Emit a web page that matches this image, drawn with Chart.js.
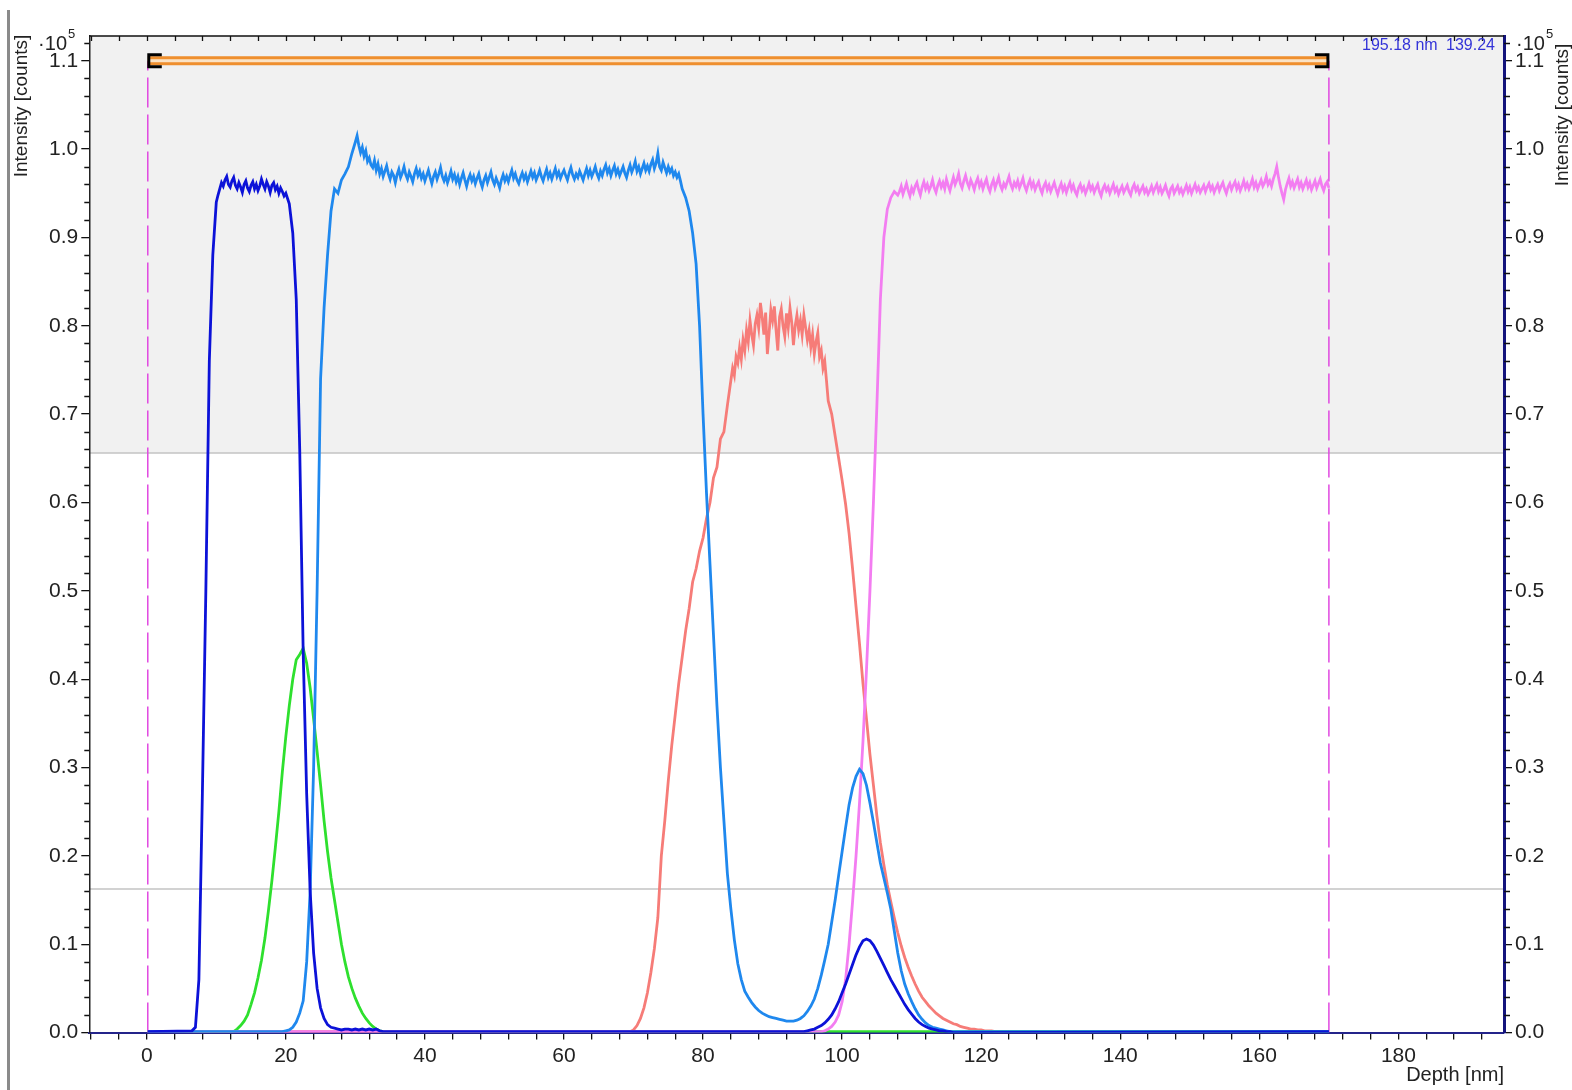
<!DOCTYPE html>
<html>
<head>
<meta charset="utf-8">
<title>Depth profile</title>
<script src="https://cdn.jsdelivr.net/npm/chart.js@4.4.1/dist/chart.umd.min.js"></script>
<style>
  html, body { margin: 0; padding: 0; background: #fff; }
  canvas { display: block; }
</style>
</head>
<body>
<canvas id="profile" width="1572" height="1090"></canvas>
<script>
// depth axis [nm]
var depthMin = -8.26;
var depthMax = 195.18;
var depthLabels = [0, 20, 40, 60, 80, 100, 120, 140, 160, 180];
var depthMinorStep = 4;

// intensity axis [10^5 counts]
var countsMax = 1.128;
var countsLabels = [0, 0.1, 0.2, 0.3, 0.4, 0.5, 0.6, 0.7, 0.8, 0.9, 1.0, 1.1];
var countsMinorStep = 0.02;

// integration window, level lines and cursor readout
var windowDepth = [0.15, 170];
var windowLevel = 1.1;
var upperLevel = 0.656;
var lowerLevel = 0.1626;
var cursorDepth = "195.18 nm";
var cursorCounts = "139.24";

// profiles are stored as runs sampled at a fixed step from their start depth
var coarseStep = 0.5;
var fineStep = 0.25;
var floorCounts = 0.001;

// dark blue
var blueRiseStart = 6.5;
var blueRise = [0.002, 0.006, 0.06, 0.27, 0.5, 0.76, 0.88, 0.94];
var bluePlateauStart = 10.25;
var bluePlateau = [
  0.948, 0.955, 0.962, 0.958, 0.965, 0.969, 0.96, 0.957,
  0.964, 0.968, 0.959, 0.955, 0.962, 0.957, 0.951, 0.96,
  0.964, 0.956, 0.952, 0.959, 0.963, 0.955, 0.96, 0.953,
  0.958, 0.966, 0.96, 0.955, 0.963, 0.958, 0.951, 0.959,
  0.962, 0.954, 0.958, 0.95, 0.956, 0.952, 0.947, 0.95
];
var blueFallStart = 20.5;
var blueFall = [
  0.938, 0.905, 0.83, 0.66, 0.43, 0.27, 0.16, 0.09, 0.05, 0.028,
  0.016, 0.009, 0.006, 0.005, 0.004, 0.003, 0.004, 0.004, 0.003, 0.004,
  0.003, 0.004, 0.003, 0.004, 0.003, 0.004, 0.002, 0.001
];
var blueBumpStart = 94;
var blueBump = [
  0.001, 0.001, 0.002, 0.003, 0.004, 0.006, 0.008, 0.011, 0.015, 0.02,
  0.027, 0.035, 0.045, 0.055, 0.066, 0.077, 0.088, 0.097, 0.104, 0.106,
  0.104, 0.099, 0.092, 0.084, 0.076, 0.068, 0.06, 0.053, 0.046, 0.039,
  0.032, 0.026, 0.021, 0.016, 0.012, 0.009, 0.007, 0.005, 0.004, 0.003,
  0.002, 0.002, 0.001, 0.001, 0
];

// green
var greenStart = 12.5;
var green = [
  0.001, 0.004, 0.008, 0.013, 0.02, 0.032, 0.045, 0.062, 0.082, 0.107,
  0.138, 0.172, 0.21, 0.25, 0.295, 0.335, 0.37, 0.4, 0.422, 0.428,
  0.435, 0.418, 0.39, 0.355, 0.318, 0.28, 0.24, 0.205, 0.175, 0.15,
  0.125, 0.1, 0.08, 0.063, 0.05, 0.039, 0.03, 0.022, 0.016, 0.011,
  0.007, 0.004, 0.002, 0.001
];

// light blue
var skyRiseStart = 19.5;
var skyRise = [
  0.001, 0.002, 0.003, 0.006, 0.012, 0.022, 0.036, 0.08, 0.16, 0.3,
  0.5, 0.74, 0.82, 0.88, 0.93, 0.955, 0.95, 0.965, 0.972, 0.98,
  0.995
];
var skyPlateauStart = 30;
var skyPlateau = [
  1.008, 1.015, 1.004, 0.996, 1.002, 0.992, 0.998, 0.986,
  0.99, 0.982, 0.979, 0.987, 0.976, 0.983, 0.972, 0.978,
  0.969, 0.975, 0.981, 0.972, 0.966, 0.974, 0.97, 0.962,
  0.971, 0.977, 0.968, 0.973, 0.98, 0.971, 0.966, 0.974,
  0.969, 0.963, 0.972, 0.978, 0.97, 0.975, 0.967, 0.972,
  0.964, 0.97, 0.976, 0.968, 0.961, 0.969, 0.974, 0.966,
  0.972, 0.979, 0.969, 0.964, 0.97, 0.962, 0.968, 0.975,
  0.966, 0.971, 0.963, 0.969, 0.96, 0.967, 0.973, 0.965,
  0.958, 0.966, 0.971, 0.964, 0.969, 0.961, 0.967, 0.972,
  0.963, 0.957, 0.965, 0.97, 0.962, 0.968, 0.974, 0.965,
  0.96, 0.967, 0.962, 0.956, 0.965, 0.971, 0.964, 0.969,
  0.963, 0.97, 0.976, 0.967, 0.972, 0.965, 0.961, 0.968,
  0.973, 0.966, 0.971, 0.963, 0.969, 0.975, 0.968, 0.973,
  0.965, 0.97, 0.976, 0.969, 0.964, 0.971, 0.977, 0.968,
  0.973, 0.966, 0.972, 0.978, 0.969, 0.974, 0.967, 0.972,
  0.976, 0.97, 0.965, 0.973, 0.979, 0.971, 0.966, 0.972,
  0.968, 0.975, 0.97, 0.965, 0.972, 0.978, 0.97, 0.976,
  0.969, 0.974, 0.98, 0.972, 0.967, 0.975, 0.97, 0.977,
  0.982, 0.973, 0.978, 0.97, 0.976, 0.981, 0.972, 0.977,
  0.97, 0.975, 0.98, 0.973, 0.968, 0.976, 0.982, 0.974,
  0.979, 0.986, 0.975, 0.98, 0.972, 0.978, 0.984, 0.976,
  0.981, 0.975, 0.983, 0.988, 0.978, 0.984, 0.995, 0.98,
  0.976, 0.985, 0.979, 0.973, 0.98, 0.974, 0.978, 0.97,
  0.974, 0.968, 0.972, 0.964
];
var skyFallStart = 77;
var skyFall = [
  0.955, 0.945, 0.93, 0.905, 0.87, 0.8, 0.7, 0.61, 0.53, 0.45,
  0.37, 0.3, 0.24, 0.18, 0.14, 0.105, 0.078, 0.06, 0.047, 0.04,
  0.034, 0.029, 0.025, 0.022, 0.02, 0.018, 0.017, 0.016, 0.015, 0.014,
  0.013, 0.013, 0.013, 0.014, 0.016, 0.019, 0.024, 0.03, 0.038, 0.05,
  0.065, 0.082, 0.1, 0.125, 0.15, 0.178, 0.205, 0.232, 0.258, 0.277,
  0.29, 0.298, 0.293, 0.28, 0.26, 0.238, 0.215, 0.192, 0.175, 0.158,
  0.14, 0.115, 0.09, 0.07, 0.055, 0.044, 0.035, 0.027, 0.02, 0.015,
  0.011, 0.008, 0.006, 0.005, 0.004, 0.003, 0.002, 0.001, 0.001
];

// salmon
var salmonRiseStart = 69.5;
var salmonRise = [
  0.001, 0.003, 0.008, 0.016, 0.028, 0.045, 0.068, 0.095, 0.13, 0.2,
  0.24, 0.285, 0.325, 0.36, 0.395, 0.425, 0.455, 0.48, 0.51, 0.525,
  0.545, 0.56, 0.582, 0.6, 0.628, 0.64, 0.672, 0.68, 0.71
];
var salmonPlateauStart = 84;
var salmonPlateau = [
  0.738, 0.752, 0.744, 0.765, 0.758, 0.775, 0.762, 0.784,
  0.772, 0.795, 0.782, 0.806, 0.79, 0.778, 0.802, 0.812,
  0.798, 0.826, 0.81, 0.79, 0.815, 0.768, 0.792, 0.818,
  0.806, 0.822, 0.795, 0.772, 0.81, 0.819, 0.8, 0.788,
  0.814, 0.798, 0.82, 0.804, 0.778, 0.8, 0.812, 0.795,
  0.806, 0.79, 0.812, 0.798, 0.784, 0.795, 0.776, 0.79,
  0.768, 0.782, 0.792, 0.765, 0.772, 0.752, 0.76, 0.738
];
var salmonFallStart = 98;
var salmonFall = [
  0.715, 0.7, 0.675, 0.65, 0.625, 0.598, 0.565, 0.525, 0.482, 0.44,
  0.395, 0.355, 0.315, 0.28, 0.245, 0.215, 0.19, 0.167, 0.148, 0.13,
  0.113, 0.098, 0.085, 0.074, 0.064, 0.055, 0.047, 0.04, 0.035, 0.03,
  0.026, 0.022, 0.019, 0.016, 0.014, 0.012, 0.01, 0.009, 0.007, 0.006,
  0.005, 0.004, 0.004, 0.003, 0.003, 0.002, 0.002, 0.002, 0.001, 0.001
];

// magenta
var pinkRiseStart = 97;
var pinkRise = [
  0.001, 0.002, 0.004, 0.007, 0.012, 0.02, 0.035, 0.06, 0.1, 0.148,
  0.2, 0.26, 0.33, 0.41, 0.5, 0.6, 0.71, 0.83, 0.9, 0.932,
  0.945, 0.952, 0.948
];
var pinkPlateauStart = 108.25;
var pinkPlateau = [
  0.952, 0.958, 0.949, 0.955, 0.961, 0.953, 0.947, 0.956,
  0.951, 0.958, 0.962, 0.954, 0.948, 0.957, 0.963, 0.955,
  0.96, 0.953, 0.958, 0.965, 0.956, 0.951, 0.959, 0.964,
  0.957, 0.962, 0.955, 0.966, 0.959, 0.953, 0.961, 0.968,
  0.96, 0.965, 0.972, 0.961, 0.956, 0.964, 0.97, 0.962,
  0.957, 0.965, 0.96, 0.954, 0.962, 0.967, 0.958, 0.963,
  0.955, 0.961, 0.966, 0.957, 0.952, 0.96, 0.965, 0.956,
  0.962, 0.968, 0.959, 0.954, 0.961, 0.957, 0.963, 0.969,
  0.96, 0.955, 0.962, 0.958, 0.964, 0.956, 0.961, 0.967,
  0.958, 0.953, 0.96, 0.965, 0.957, 0.962, 0.954, 0.959,
  0.963, 0.955, 0.95, 0.958, 0.962, 0.954, 0.959, 0.952,
  0.957, 0.962, 0.955, 0.949, 0.956, 0.961, 0.953, 0.958,
  0.951, 0.957, 0.962, 0.954, 0.959, 0.952, 0.948, 0.956,
  0.96, 0.953, 0.957, 0.95, 0.955, 0.961, 0.954, 0.958,
  0.951, 0.956, 0.96, 0.952, 0.947, 0.955, 0.959, 0.953,
  0.957, 0.95, 0.955, 0.96, 0.952, 0.956, 0.949, 0.954,
  0.958, 0.951, 0.955, 0.959, 0.952, 0.948, 0.956, 0.96,
  0.953, 0.957, 0.95, 0.954, 0.958, 0.951, 0.955, 0.949,
  0.953, 0.958, 0.951, 0.956, 0.96, 0.952, 0.957, 0.95,
  0.954, 0.959, 0.952, 0.947, 0.955, 0.958, 0.95, 0.954,
  0.958, 0.951, 0.955, 0.949, 0.954, 0.959, 0.952, 0.957,
  0.95, 0.955, 0.96, 0.953, 0.957, 0.951, 0.955, 0.959,
  0.952, 0.957, 0.961, 0.954, 0.958, 0.951, 0.956, 0.96,
  0.953, 0.958, 0.962, 0.955, 0.95, 0.957, 0.961, 0.954,
  0.959, 0.963, 0.955, 0.96, 0.953, 0.958, 0.964, 0.956,
  0.961, 0.955, 0.96, 0.966, 0.957, 0.962, 0.955, 0.96,
  0.965, 0.958, 0.962, 0.969, 0.96, 0.964, 0.958, 0.966,
  0.972, 0.98, 0.968, 0.958, 0.95, 0.943, 0.954, 0.961,
  0.967, 0.958, 0.963, 0.956, 0.961, 0.966, 0.957, 0.962,
  0.955, 0.96, 0.965, 0.957, 0.962, 0.954, 0.959, 0.964,
  0.956, 0.961, 0.966, 0.958, 0.953, 0.96, 0.963, 0.956
];

function run(start, step, values) {
  return { start: start, step: step, values: values };
}

// join runs into one trace, running along the floor inside the window
function trace(runs) {
  var pts = [];
  if (runs[0].start > windowDepth[0]) pts.push({ x: windowDepth[0], y: floorCounts });
  runs.forEach(function (r) {
    r.values.forEach(function (v, i) {
      pts.push({ x: r.start + i * r.step, y: v });
    });
  });
  if (pts[pts.length - 1].x < windowDepth[1] - 0.01) pts.push({ x: windowDepth[1], y: floorCounts });
  return pts;
}

function curve(label, color, runs) {
  return {
    label: label,
    data: trace(runs),
    borderColor: color,
    borderWidth: 2.8,
    pointRadius: 0,
    tension: 0,
    fill: false
  };
}

function windowEdge(depth) {
  return {
    label: "window",
    data: [{ x: depth, y: 0 }, { x: depth, y: windowLevel }],
    borderColor: "#e048e0",
    borderWidth: 1.5,
    borderDash: [30, 7],
    pointRadius: 0,
    fill: false
  };
}

// light grey band above the upper level plus the two level lines
var levelBand = {
  id: "levelBand",
  beforeDraw: function (chart) {
    var ctx = chart.ctx, a = chart.chartArea, ys = chart.scales.y;
    var yu = ys.getPixelForValue(upperLevel);
    var yl = ys.getPixelForValue(lowerLevel);
    ctx.save();
    ctx.fillStyle = "#f1f1f1";
    ctx.fillRect(a.left, a.top, a.right - a.left, yu - a.top);
    ctx.strokeStyle = "#c4c4c4";
    ctx.lineWidth = 1.5;
    ctx.beginPath();
    ctx.moveTo(a.left, yu); ctx.lineTo(a.right, yu);
    ctx.moveTo(a.left, yl); ctx.lineTo(a.right, yl);
    ctx.stroke();
    ctx.restore();
  }
};

// orange bar with black brackets marking the integration window
var windowMarker = {
  id: "windowMarker",
  afterDatasetsDraw: function (chart) {
    var ctx = chart.ctx, xs = chart.scales.x, ys = chart.scales.y;
    var x1 = xs.getPixelForValue(windowDepth[0]);
    var x2 = xs.getPixelForValue(windowDepth[1]);
    var y = ys.getPixelForValue(windowLevel);
    ctx.save();
    ctx.fillStyle = "#ef8f2e";
    ctx.fillRect(x1, y - 4.5, x2 - x1, 9);
    ctx.fillStyle = "#fbe3c6";
    ctx.fillRect(x1, y - 1.5, x2 - x1, 3);
    ctx.strokeStyle = "#000";
    ctx.lineWidth = 3;
    ctx.beginPath();
    ctx.moveTo(x1 + 14, y - 6); ctx.lineTo(x1 + 1, y - 6); ctx.lineTo(x1 + 1, y + 6); ctx.lineTo(x1 + 14, y + 6);
    ctx.moveTo(x2 - 14, y - 6); ctx.lineTo(x2 - 1, y - 6); ctx.lineTo(x2 - 1, y + 6); ctx.lineTo(x2 - 14, y + 6);
    ctx.stroke();
    ctx.restore();
  }
};

// frame top, minor ticks, titles and the readout text
var frameDecor = {
  id: "frameDecor",
  afterDraw: function (chart) {
    var ctx = chart.ctx, a = chart.chartArea, xs = chart.scales.x, ys = chart.scales.y;
    ctx.save();
    ctx.strokeStyle = "#111";
    ctx.lineWidth = 1.3;
    ctx.beginPath();
    ctx.moveTo(a.left, a.top); ctx.lineTo(a.right, a.top);
    for (var d = Math.ceil(depthMin / depthMinorStep) * depthMinorStep; d <= depthMax; d += depthMinorStep) {
      var px = Math.round(xs.getPixelForValue(d)) + 0.5;
      ctx.moveTo(px, a.top); ctx.lineTo(px, a.top + 5);
    }
    for (var i = 1; i * countsMinorStep < countsMax; i++) {
      if (i % 5 === 0) continue;
      var py = Math.round(ys.getPixelForValue(i * countsMinorStep)) + 0.5;
      ctx.moveTo(a.left, py); ctx.lineTo(a.left - 5, py);
      ctx.moveTo(a.right, py); ctx.lineTo(a.right + 6, py);
    }
    ctx.stroke();

    // window frame edge at the far left
    ctx.fillStyle = "#8a8a8a";
    ctx.fillRect(7, 10, 3, 1080);

    ctx.fillStyle = "#222";
    ctx.font = "19px 'Liberation Sans', Arial, sans-serif";
    ctx.textBaseline = "middle";
    ctx.textAlign = "center";
    ctx.save();
    ctx.translate(22, 106);
    ctx.rotate(-Math.PI / 2);
    ctx.fillText("Intensity [counts]", 0, 0);
    ctx.restore();
    ctx.save();
    ctx.translate(1563, 115);
    ctx.rotate(-Math.PI / 2);
    ctx.fillText("Intensity [counts]", 0, 0);
    ctx.restore();

    ctx.font = "20px 'Liberation Sans', Arial, sans-serif";
    ctx.textBaseline = "alphabetic";
    ctx.textAlign = "right";
    ctx.fillText("Depth [nm]", a.right, 1081);
    ctx.fillText("\u00b710", 67, 50);
    ctx.textAlign = "left";
    ctx.fillText("\u00b710", 1516, 50);
    ctx.font = "13px 'Liberation Sans', Arial, sans-serif";
    ctx.fillText("5", 68, 38);
    ctx.fillText("5", 1546, 38);

    ctx.fillStyle = "#3434d8";
    ctx.font = "16px 'Liberation Sans', Arial, sans-serif";
    ctx.fillText(cursorDepth, 1362, 50);
    ctx.textAlign = "right";
    ctx.fillText(cursorCounts, 1495, 50);
    ctx.restore();
  }
};

Chart.defaults.font.family = "'Liberation Sans', Arial, sans-serif";
Chart.defaults.font.size = 21;
Chart.defaults.color = "#222";

var countTicks = {
  color: "#222",
  padding: 3,
  callback: function (v) { return Number(v).toFixed(1); }
};

new Chart(document.getElementById("profile"), {
  type: "line",
  data: {
    datasets: [
      curve("blue", "#0c12d8", [
        run(blueRiseStart, coarseStep, blueRise),
        run(bluePlateauStart, fineStep, bluePlateau),
        run(blueFallStart, coarseStep, blueFall),
        run(blueBumpStart, coarseStep, blueBump)
      ]),
      curve("sky", "#1f88ee", [
        run(skyRiseStart, coarseStep, skyRise),
        run(skyPlateauStart, fineStep, skyPlateau),
        run(skyFallStart, coarseStep, skyFall)
      ]),
      curve("pink", "#f37df1", [
        run(pinkRiseStart, coarseStep, pinkRise),
        run(pinkPlateauStart, fineStep, pinkPlateau)
      ]),
      curve("green", "#2ee02e", [run(greenStart, coarseStep, green)]),
      curve("salmon", "#f67c78", [
        run(salmonRiseStart, coarseStep, salmonRise),
        run(salmonPlateauStart, fineStep, salmonPlateau),
        run(salmonFallStart, coarseStep, salmonFall)
      ]),
      windowEdge(windowDepth[0]),
      windowEdge(windowDepth[1])
    ]
  },
  options: {
    responsive: false,
    animation: false,
    events: [],
    layout: { padding: { top: 36, left: 0, right: 0, bottom: 0 } },
    plugins: { legend: { display: false }, tooltip: { enabled: false } },
    scales: {
      x: {
        type: "linear",
        position: "bottom",
        min: depthMin,
        max: depthMax,
        afterFit: function (s) { s.height = 57.4; },
        afterBuildTicks: function (s) {
          var t = [];
          for (var d = Math.ceil(depthMin / depthMinorStep) * depthMinorStep; d <= depthMax; d += depthMinorStep) t.push({ value: d });
          s.ticks = t;
        },
        ticks: {
          autoSkip: false,
          maxRotation: 0,
          padding: 4,
          color: "#222",
          callback: function (v) { return depthLabels.indexOf(v) >= 0 ? String(v) : ""; }
        },
        grid: { drawOnChartArea: false, tickLength: 7, color: "#111", lineWidth: 1.3 },
        border: { color: "#24248a", width: 2 }
      },
      y: {
        position: "left",
        min: 0,
        max: countsMax,
        afterFit: function (s) { s.width = 89.3; },
        afterBuildTicks: function (s) { s.ticks = countsLabels.map(function (v) { return { value: v }; }); },
        ticks: countTicks,
        grid: { drawOnChartArea: false, tickLength: 8, color: "#111", lineWidth: 1.3 },
        border: { color: "#222", width: 1.5 }
      },
      y2: {
        position: "right",
        min: 0,
        max: countsMax,
        afterFit: function (s) { s.width = 68; },
        afterBuildTicks: function (s) { s.ticks = countsLabels.map(function (v) { return { value: v }; }); },
        ticks: countTicks,
        grid: { drawOnChartArea: false, tickLength: 8, color: "#111", lineWidth: 1.3 },
        border: { color: "#14147c", width: 3 }
      }
    }
  },
  plugins: [levelBand, windowMarker, frameDecor]
});
</script>
</body>
</html>
